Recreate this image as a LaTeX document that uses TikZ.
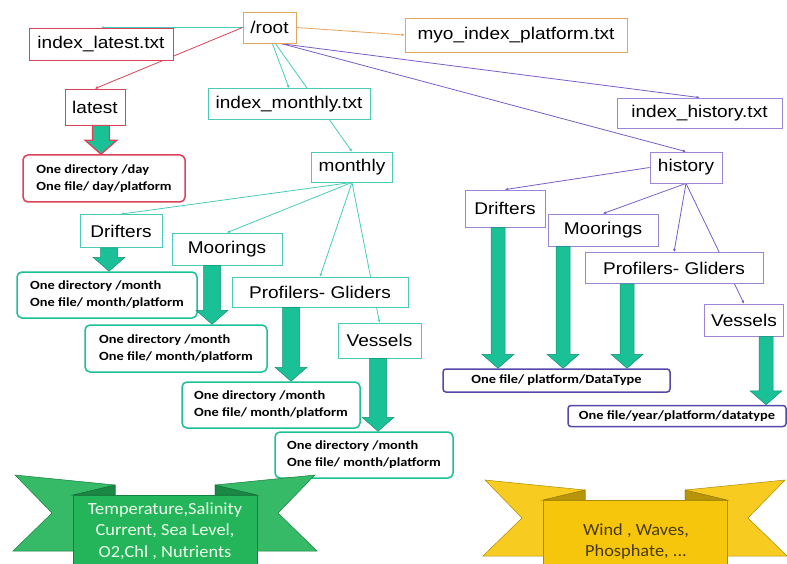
\documentclass[tikz,border=0pt]{standalone}
\usepackage{fontspec}
\setmainfont{Liberation Sans}
\newfontfamily\lblfont[FakeStretch=1.12]{Liberation Sans}
\newfontfamily\boxfont[FakeStretch=1.15]{Carlito}
\newfontfamily\banfont[FakeStretch=1.08]{Carlito}
\usepackage{tikz}
\usetikzlibrary{arrows.meta,calc,positioning,backgrounds}

\definecolor{rootorange}{RGB}{230,165,95}
\definecolor{latestred}{RGB}{220,66,88}
\definecolor{monthteal}{RGB}{72,204,184}
\definecolor{histpurple}{RGB}{122,92,200}
\definecolor{arrowteal}{RGB}{26,192,150}
\definecolor{boxblue}{RGB}{84,72,172}
\definecolor{bangreen}{RGB}{36,180,90}
\definecolor{banyellow}{RGB}{246,198,12}

% thick block arrow: [style]{x}{from node}{to node}
\def\stemhw{8.5pt}
\newcommand{\fatarrow}[4][fat]{%
	\path[#1] let \p1=(#3.south), \p2=(#4.north) in
	(#2pt-\stemhw,\y1) -- (#2pt+\stemhw,\y1) -- (#2pt+\stemhw,\y2+14pt) -- (#2pt+16pt,\y2+14pt)
	-- (#2pt,\y2) -- (#2pt-16pt,\y2+14pt) -- (#2pt-\stemhw,\y2+14pt) -- cycle;}

% ribbon banner: {center x}{panel top}{colour}
\newcommand{\ribbon}[3]{%
	\path[fill=#3!92!white, draw=#3!70!black, line width=0.5pt]
	({#1-150},{#2-20}) -- ({#1-50},{#2-10}) -- ({#1-50},{#2+56}) -- ({#1-152},{#2+56}) -- ({#1-113},{#2+18}) -- cycle;
	\path[fill=#3!92!white, draw=#3!70!black, line width=0.5pt]
	({#1+150},{#2-20}) -- ({#1+50},{#2-10}) -- ({#1+50},{#2+56}) -- ({#1+152},{#2+56}) -- ({#1+113},{#2+18}) -- cycle;
	\path[fill=#3!75!black, draw=#3!60!black, line width=0.5pt]
	({#1-92},#2) -- ({#1-50},{#2-10}) -- ({#1-50},#2) -- cycle;
	\path[fill=#3!75!black, draw=#3!60!black, line width=0.5pt]
	({#1+92},#2) -- ({#1+50},{#2-10}) -- ({#1+50},#2) -- cycle;
	\path[fill=#3, draw=#3!70!black, line width=0.5pt]
	({#1-92},#2) rectangle ({#1+92},570);}

\begin{document}
\begin{tikzpicture}[x=1pt, y=-1pt,
		lbl/.style   = {draw, fill=white, line width=0.8pt, inner sep=0pt,
			font=\lblfont\fontsize{17}{20}\selectfont},
		sz/.style 2 args = {minimum width=#1pt, minimum height=#2pt},
		info/.style  = {draw, fill=white, line width=1.5pt, rounded corners=5pt, inner sep=0pt,
			align=left, font=\boxfont\bfseries\fontsize{12.5}{17}\selectfont},
		con/.style   = {-{Latex[length=3pt,width=3pt]}, line width=0.8pt},
		fat/.style   = {fill=arrowteal, draw=arrowteal!75!black, line width=0.5pt}]
	
	\useasboundingbox (0,0) rectangle (787,564);
	
	% top level
	\node[lbl, sz={53}{31}, draw=rootorange] (root) at (269.5,27.5) {/root};
	\node[lbl, sz={144}{32}, draw=latestred] (ilatest) at (101,44) {index\_latest.txt};
	\node[lbl, sz={222}{34}, draw=rootorange] (myo) at (516,35) {myo\_index\_platform.txt};
	\node[lbl, sz={60}{36}, draw=latestred] (latest) at (95,107) {latest};
	\node[lbl, sz={162}{31}, draw=monthteal] (imonthly) at (289,104) {index\_monthly.txt};
	\node[lbl, sz={165}{30}, draw=histpurple!75] (ihistory) at (699.5,113) {index\_history.txt};
	\node[lbl, sz={81}{30}, draw=monthteal] (monthly) at (352,167) {monthly};
	\node[lbl, sz={72}{31}, draw=histpurple!75] (history) at (686,167.5) {history};
	
	% monthly platforms
	\begin{scope}[every node/.append style={draw=monthteal}]
		\node[lbl, sz={82}{33}] (drl) at (121,231) {Drifters};
		\node[lbl, sz={110}{32}] (mol) at (227,249) {Moorings};
		\node[lbl, sz={176}{30}] (prl) at (320,292) {Profilers- Gliders};
		\node[lbl, sz={83}{35}] (vel) at (379.5,340.5) {Vessels};
	\end{scope}
	
	% history platforms
	\begin{scope}[every node/.append style={draw=histpurple!75}]
		\node[lbl, sz={80}{37}] (drr) at (505,208.5) {Drifters};
		\node[lbl, sz={110}{32}] (mor) at (603,230) {Moorings};
		\node[lbl, sz={178}{31}] (prr) at (674,268) {Profilers- Gliders};
		\node[lbl, sz={79}{32}] (ver) at (744,320) {Vessels};
	\end{scope}
	
	% file layout boxes
	\node[info, sz={162}{47}, draw=latestred] (daybox) at (104,178.5) {One directory /day\\One file/ day/platform};
	\begin{scope}[every node/.append style={info, draw=arrowteal}]
		\node[sz={180}{46}] (mb1) at (107,295) {One directory /month\\One file/ month/platform};
		\node[sz={182}{47}] (mb2) at (176,348.5) {One directory /month\\One file/ month/platform};
		\node[sz={178}{46}] (mb3) at (271,405) {One directory /month\\One file/ month/platform};
		\node[sz={178}{46}] (mb4) at (364,455) {One directory /month\\One file/ month/platform};
	\end{scope}
	\begin{scope}[every node/.append style={info, draw=boxblue, rounded corners=3pt}]
		\node[sz={227}{23}] (pbox) at (556.5,380.5) {One file/ platform/DataType};
		\node[sz={218}{21}] (ybox) at (677,416) {One file/year/platform/datatype};
	\end{scope}
	
	% thin connectors, behind the boxes
	\begin{scope}[on background layer]
		\draw[con, monthteal] (root.west) -- (ilatest.north);
		\draw[con, latestred] (root.west) -- (latest.north);
		\draw[con, rootorange] (root.east) -- (myo.west);
		\draw[con, monthteal] (root.280) -- (imonthly.north);
		\draw[con, monthteal] (root.290) -- (monthly.north);
		\draw[con, histpurple] (root.300) -- (ihistory.north);
		\draw[con, histpurple] (root.305) -- (history.north);
		\foreach \n in {drl,mol,prl,vel}
		\draw[con, monthteal] (monthly.south) -- (\n.north);
		\draw[con, histpurple] (history.west) -- (drr.north);
		\foreach \n in {mor,prr,ver}
		\draw[con, histpurple] (history.south) -- (\n.north);
	\end{scope}
	
	% block arrows
	\fatarrow[fat, draw=latestred, line width=1.2pt]{101}{latest}{daybox}
	\fatarrow{109}{drl}{mb1}
	\fatarrow{212}{mol}{mb2}
	\fatarrow{291}{prl}{mb3}
	\fatarrow{378}{vel}{mb4}
	\begin{scope}
		\def\stemhw{7pt}
		\fatarrow{498}{drr}{pbox}
		\fatarrow{563}{mor}{pbox}
		\fatarrow{627}{prr}{pbox}
		\fatarrow{766}{ver}{ybox}
	\end{scope}
	
	% banners
	\begin{scope}
		\clip (0,0) rectangle (787,564);
		\ribbon{165}{495}{bangreen}
		\ribbon{635}{500}{banyellow}
	\end{scope}
	\node[align=center, text=green!8, font=\banfont\fontsize{17}{21.5}\selectfont] (green) at (165,531)
	{Temperature,Salinity\\Current, Sea Level,\\O2,Chl , Nutrients};
	\node[align=center, text=banyellow!30!black, font=\banfont\fontsize{17}{21}\selectfont] (yellow) at (636,541)
	{Wind , Waves,\\Phosphate, ...};
	
\end{tikzpicture}
\end{document}
